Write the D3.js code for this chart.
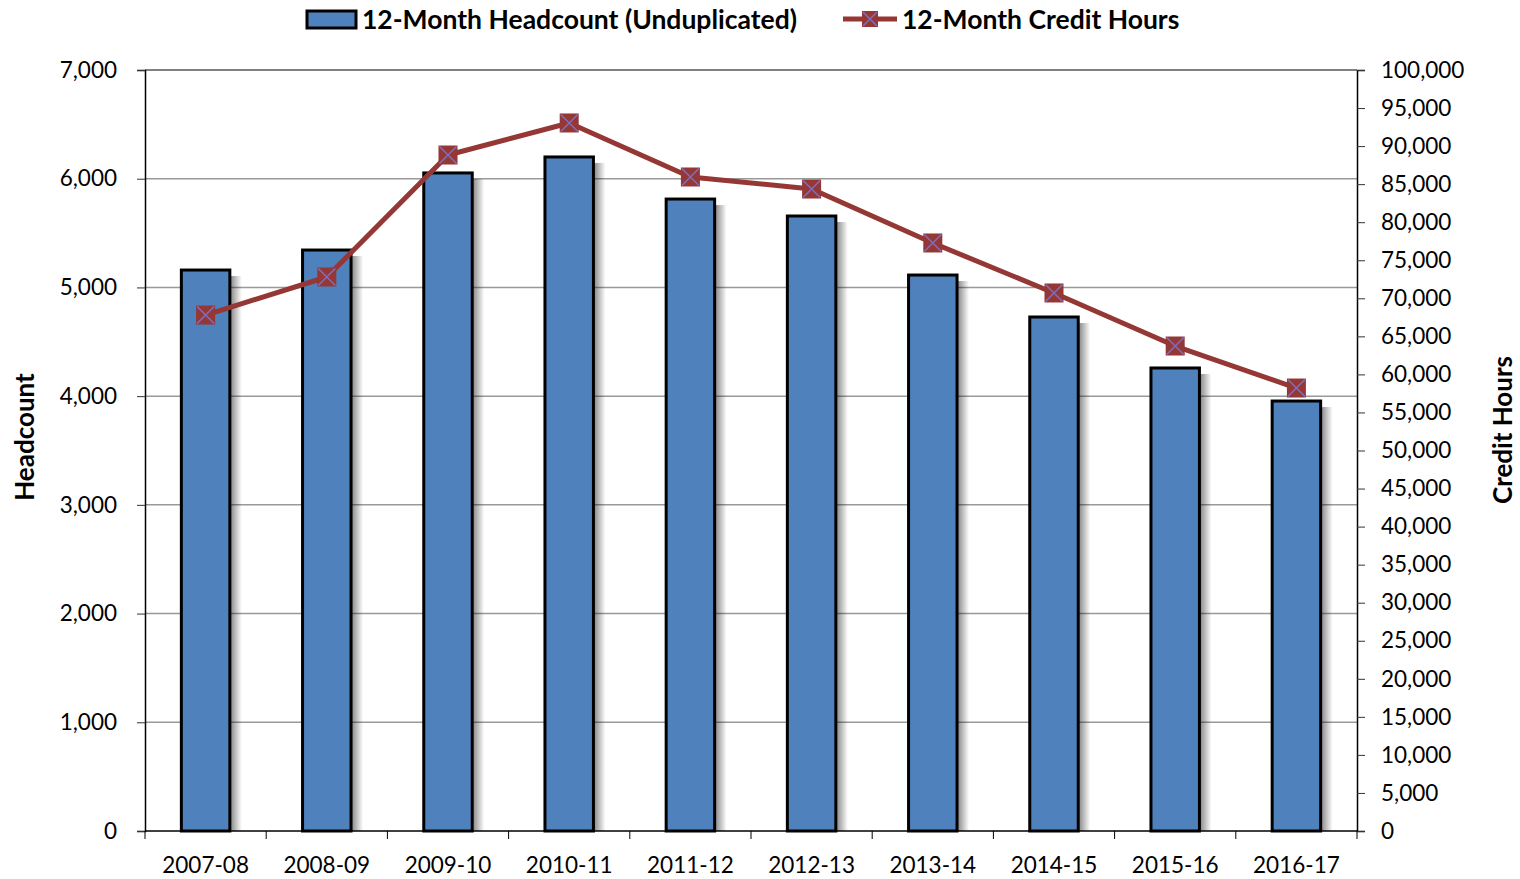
<!DOCTYPE html>
<html>
<head>
<meta charset="utf-8">
<script src="https://cdn.jsdelivr.net/npm/d3@7"></script>
<style>
  body { margin: 0; background: #fff; }
  text { font-family: Lato, "Open Sans", sans-serif; fill: #000; }
</style>
</head>
<body>
<svg id="chart" width="1520" height="879"></svg>
<script>
var years = ["2007-08", "2008-09", "2009-10", "2010-11", "2011-12", "2012-13", "2013-14", "2014-15", "2015-16", "2016-17"];
var headcount = [5160, 5344, 6053, 6200, 5813, 5657, 5114, 4728, 4259, 3955];
var creditHours = [67800, 72800, 88830, 93040, 85940, 84360, 77270, 70700, 63730, 58210];
var leftTicks = [0, 1000, 2000, 3000, 4000, 5000, 6000, 7000];
var rightTicks = d3.range(0, 100001, 5000);

var barColor = "#4f81bd", lineColor = "#953735", crossColor = "#7f6fbf";

var svg = d3.select("#chart");
var plotLeft = 145, plotRight = 1357, plotTop = 70, plotBottom = 831;

var x = d3.scaleBand().domain(years).range([plotLeft, plotRight]).paddingInner(0.6).paddingOuter(0.3);
var xb = d3.scaleBand().domain(years).range([plotLeft, plotRight]);
var y = d3.scaleLinear().domain([0, 7000]).range([plotBottom, plotTop]);
var y2 = d3.scaleLinear().domain([0, 100000]).range([plotBottom, plotTop]);

var defs = svg.append("defs");
var grad = defs.append("linearGradient").attr("id", "shadow");
grad.append("stop").attr("offset", "0%").attr("stop-color", "#000").attr("stop-opacity", 0.45);
grad.append("stop").attr("offset", "100%").attr("stop-color", "#000").attr("stop-opacity", 0);

// gridlines
svg.append("g").selectAll("line").data(leftTicks.slice(1)).join("line")
    .attr("x1", plotLeft).attr("x2", plotRight)
    .attr("y1", function (d) { return y(d); }).attr("y2", function (d) { return y(d); })
    .attr("stroke", function (d) { return d == 7000 ? "#000" : "#999"; })
    .attr("stroke-width", function (d) { return d == 7000 ? 1 : 1.5; });

// bar shadows
svg.append("g").selectAll("rect").data(headcount).join("rect")
    .attr("x", function (d, i) { return x(years[i]) + x.bandwidth() + 1; })
    .attr("y", function (d) { return y(d) + 6; })
    .attr("width", 11)
    .attr("height", function (d) { return plotBottom - y(d) - 6; })
    .attr("fill", "url(#shadow)");

// bars
svg.append("g").selectAll("rect").data(headcount).join("rect")
    .attr("x", function (d, i) { return x(years[i]); })
    .attr("y", function (d) { return y(d); })
    .attr("width", x.bandwidth())
    .attr("height", function (d) { return plotBottom - y(d); })
    .attr("fill", barColor)
    .attr("stroke", "#000")
    .attr("stroke-width", 3);

// axes
var yAxis = svg.append("g").attr("transform", "translate(" + plotLeft + ",0)")
    .call(d3.axisLeft(y).tickValues(leftTicks).tickFormat(d3.format(",")).tickSize(8).tickPadding(20));
var y2Axis = svg.append("g").attr("transform", "translate(" + plotRight + ",0)")
    .call(d3.axisRight(y2).tickValues(rightTicks).tickFormat(d3.format(",")).tickSize(8).tickPadding(16));
var xAxis = svg.append("g").attr("transform", "translate(0," + plotBottom + ")")
    .call(d3.axisBottom(xb).tickSize(0).tickPadding(26));
svg.append("g").selectAll("line").data(d3.range(years.length + 1)).join("line")
    .attr("x1", function (d) { return plotLeft + d * xb.step(); })
    .attr("x2", function (d) { return plotLeft + d * xb.step(); })
    .attr("y1", plotBottom).attr("y2", plotBottom + 8)
    .attr("stroke", "#000");

[yAxis, y2Axis, xAxis].forEach(function (g) {
    g.select(".domain").attr("stroke", "#000").attr("stroke-width", 1.5);
    g.selectAll(".tick line").attr("stroke", "#333");
    g.selectAll("text").attr("font-size", 22.5).attr("font-family", "Lato, 'Open Sans', sans-serif");
});
xAxis.select(".domain").attr("d", "M" + plotLeft + ",0H" + plotRight);

// credit hours line
var line = d3.line()
    .x(function (d, i) { return xb(years[i]) + xb.bandwidth() / 2; })
    .y(function (d) { return y2(d); });
svg.append("path").datum(creditHours)
    .attr("d", line)
    .attr("fill", "none")
    .attr("stroke", lineColor)
    .attr("stroke-width", 5)
    .attr("stroke-linejoin", "round");

function marker(g, cx, cy, s) {
    g.append("rect").attr("x", cx - s / 2).attr("y", cy - s / 2).attr("width", s).attr("height", s)
        .attr("fill", lineColor);
    g.append("path")
        .attr("d", "M" + (cx - s / 2 + 1) + "," + (cy - s / 2 + 1) + "L" + (cx + s / 2 - 1) + "," + (cy + s / 2 - 1) +
            "M" + (cx + s / 2 - 1) + "," + (cy - s / 2 + 1) + "L" + (cx - s / 2 + 1) + "," + (cy + s / 2 - 1))
        .attr("stroke", crossColor).attr("stroke-width", 1.5);
}
var mg = svg.append("g");
creditHours.forEach(function (d, i) {
    marker(mg, xb(years[i]) + xb.bandwidth() / 2, y2(d), 19);
});

// axis titles
svg.append("text").attr("transform", "translate(34,437) rotate(-90)")
    .attr("text-anchor", "middle").attr("font-size", 26).attr("font-weight", "bold").text("Headcount");
svg.append("text").attr("transform", "translate(1512,430) rotate(-90)")
    .attr("text-anchor", "middle").attr("font-size", 26).attr("font-weight", "bold").text("Credit Hours");

// legend
var lg = svg.append("g");
lg.append("rect").attr("x", 307).attr("y", 11).attr("width", 49).attr("height", 17)
    .attr("fill", barColor).attr("stroke", "#000").attr("stroke-width", 3);
lg.append("text").attr("x", 362).attr("y", 29).attr("font-size", 26.5).attr("font-weight", "bold")
    .text("12-Month Headcount (Unduplicated)");
lg.append("line").attr("x1", 843).attr("x2", 897).attr("y1", 19).attr("y2", 19)
    .attr("stroke", lineColor).attr("stroke-width", 5);
marker(lg, 870, 19, 16);
lg.append("text").attr("x", 902).attr("y", 29).attr("font-size", 26.5).attr("font-weight", "bold")
    .text("12-Month Credit Hours");
</script>
</body>
</html>
